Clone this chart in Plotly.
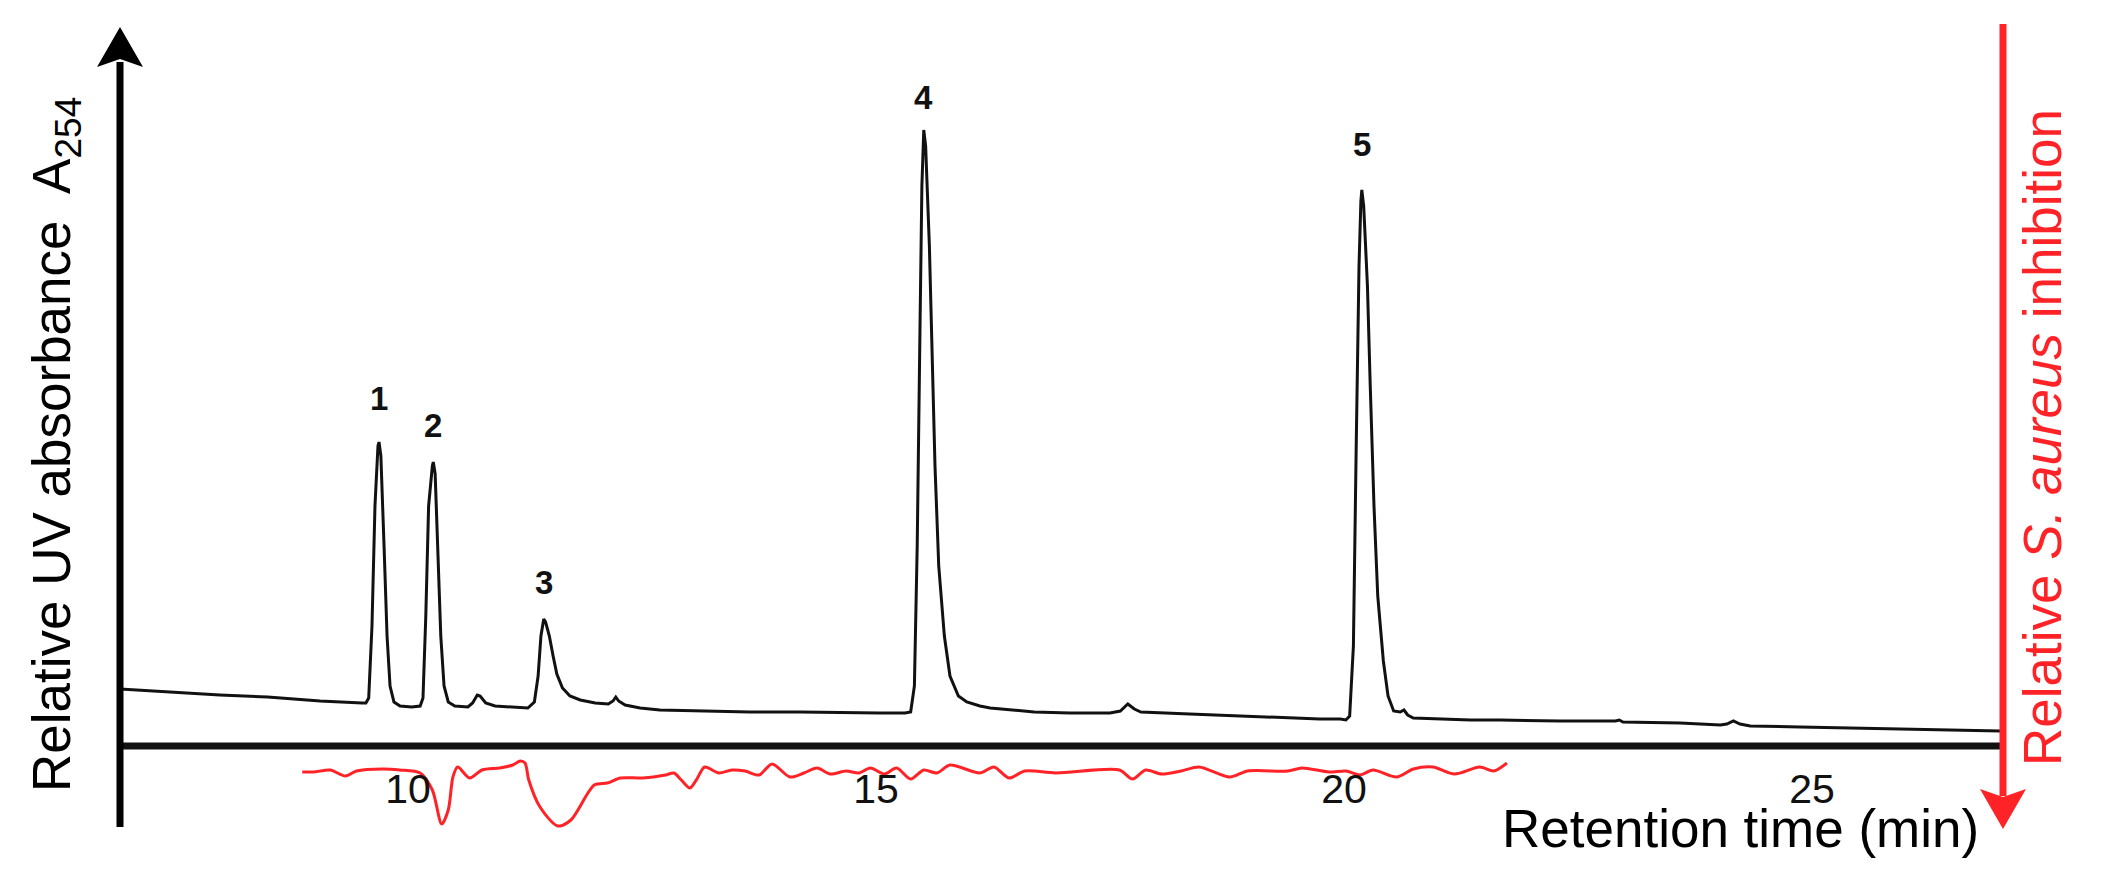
import plotly.graph_objects as go

# UV trace at 254 nm (relative absorbance, baseline-free units)
uv_time = [6.92, 7.46, 7.99, 8.50, 9.06, 9.51, 9.55, 9.58, 9.615, 9.647, 9.679, 9.69, 9.71,
           9.744, 9.776, 9.808, 9.85, 9.915, 10.04, 10.13, 10.16, 10.19, 10.22, 10.26, 10.27,
           10.29, 10.32, 10.35, 10.385, 10.43, 10.50, 10.64, 10.69, 10.74, 10.77, 10.83, 10.93,
           11.09, 11.28, 11.35, 11.39, 11.42, 11.44, 11.45, 11.47, 11.51, 11.55, 11.59, 11.65,
           11.73, 11.84, 12.00, 12.14, 12.19, 12.22, 12.25, 12.32, 12.48, 12.69, 13.12, 13.65,
           14.19, 14.72, 15.04, 15.31, 15.37, 15.41, 15.44, 15.47, 15.49, 15.51, 15.53, 15.57,
           15.60, 15.63, 15.67, 15.73, 15.79, 15.88, 15.97, 16.11, 16.22, 16.43, 16.69, 17.07,
           17.50, 17.61, 17.69, 17.76, 17.83, 18.35, 18.89, 19.31, 19.74, 19.96, 20.02, 20.06,
           20.10, 20.13, 20.16, 20.18, 20.19, 20.21, 20.25, 20.28, 20.32, 20.36, 20.42, 20.47,
           20.53, 20.60, 20.64, 20.68, 20.74, 21.35, 21.67, 22.31, 22.90, 22.94, 22.98, 23.59,
           24.02, 24.09, 24.16, 24.23, 24.34, 24.87, 25.78, 27.01]
uv_abs = [57, 54, 51, 49, 45, 43, 43, 48, 120, 240, 300, 304, 290,
          200, 110, 60, 44, 40, 39, 40, 48, 130, 240, 280, 284,
          272, 190, 110, 60, 44, 40, 39, 43, 51, 50, 43, 40,
          39, 38, 44, 70, 110, 125, 127, 124, 110, 90, 72, 58,
          50, 46, 43, 42, 45, 49, 45, 41, 38, 36, 35, 34,
          34, 33, 33, 33, 34, 60, 200, 420, 560, 616, 600, 500,
          380, 280, 180, 110, 70, 50, 44, 40, 38, 36, 34, 33,
          33, 35, 42, 37, 34, 32, 30, 28, 27, 27, 26, 30,
          100, 300, 480, 545, 556, 540, 460, 360, 240, 150, 85, 50,
          35, 34, 36, 31, 28, 26, 26, 25, 25, 26, 24, 23,
          21, 22, 25, 22, 20, 19, 17, 15]

# S. aureus growth inhibition (bioautography), relative, larger = stronger
inh_time = [8.87, 8.99, 9.17, 9.33, 9.45, 9.73, 9.91, 10.13, 10.26, 10.36, 10.43, 10.48,
            10.53, 10.66, 10.79, 10.98, 11.12, 11.20, 11.25, 11.29, 11.41, 11.60, 11.74,
            11.99, 12.13, 12.27, 12.51, 12.75, 12.84, 12.92, 13.01, 13.08, 13.17, 13.32,
            13.46, 13.60, 13.75, 13.89, 14.08, 14.23, 14.37, 14.51, 14.68, 14.82, 14.94,
            15.09, 15.22, 15.37, 15.51, 15.65, 15.79, 16.11, 16.26, 16.42, 16.59, 16.92,
            17.60, 17.74, 17.88, 18.05, 18.26, 18.45, 18.78, 18.97, 19.40, 19.55, 19.84,
            20.02, 20.17, 20.31, 20.56, 20.74, 20.95, 21.18, 21.45, 21.60, 21.74]
inh_value = [1, 1, -1, 5, 0, -2, -1, 2, 19, 53, 39, 6,
             -4, 7, -1, -3, -6, -10, -8, 9, 36, 55, 49,
             14, 12, 7, 7, 4, 2, 9, 17, 9, -4, 2,
             -1, 0, 4, -7, 6, 2, -3, 3, 0, 2, -3,
             3, -3, 8, -1, 2, -6, 2, -4, 7, 0, 2,
             -1, 8, -1, 3, 0, -4, 6, 0, 0, -3, 1,
             0, 4, -1, 6, -2, -4, 3, -4, 0, -8]

peak_names = ["1", "2", "3", "4", "5"]
peak_times = [9.69, 10.27, 11.45, 15.51, 20.19]

x_ticks = [10, 15, 20, 25]

W, H = 2102, 884
ML, MR, MT, MB = 120, 99, 20, 20
RED = "#ff2328"
FONT = "Liberation Sans, Arial, sans-serif"
label_shift = [44, 37, 37, 33, 46]  # px above each apex, as hand placed in the figure


def px(x):  # pixel -> paper (decorations only)
    return (x - ML) / (W - ML - MR)


def py(y):
    return (H - MB - y) / (H - MT - MB)


fig = go.Figure()
fig.add_trace(go.Scatter(x=uv_time, y=uv_abs, mode="lines",
                         line=dict(color="#111111", width=3), yaxis="y"))
fig.add_trace(go.Scatter(x=inh_time, y=inh_value, mode="lines",
                         line=dict(color=RED, width=3, shape="spline", smoothing=0.8),
                         yaxis="y2"))

shapes = [
    # x axis
    dict(type="line", xref="paper", yref="y", x0=px(117), x1=1, y0=0, y1=0,
         line=dict(color="#111111", width=7)),
    # left axis + arrow
    dict(type="line", xref="paper", yref="paper", x0=0, x1=0, y0=py(827), y1=py(62),
         line=dict(color="#000000", width=7)),
    dict(type="path", xref="paper", yref="paper", fillcolor="#000000", line=dict(width=0),
         path="M {} {} L {} {} L {} {} L {} {} Z".format(
             px(120), py(27), px(143), py(67), px(120), py(59), px(97), py(67))),
    # right axis + arrow (inhibition grows downward)
    dict(type="line", xref="paper", yref="paper", x0=1, x1=1, y0=py(24), y1=py(796),
         line=dict(color=RED, width=7)),
    dict(type="path", xref="paper", yref="paper", fillcolor=RED, line=dict(width=0),
         path="M {} {} L {} {} L {} {} L {} {} Z".format(
             px(2003), py(829), px(2026), py(789), px(2003), py(797), px(1980), py(789))),
]

annotations = []
for name, t, dy in zip(peak_names, peak_times, label_shift):
    near = [a for tt, a in zip(uv_time, uv_abs) if abs(tt - t) < 0.05]
    annotations.append(dict(x=t, y=max(near), xref="x", yref="y", text="<b>%s</b>" % name,
                            showarrow=False, yshift=dy,
                            font=dict(family=FONT, size=33, color="#111111")))

annotations += [
    dict(x=px(1740), y=py(828), xref="paper", yref="paper", text="Retention time (min)",
         showarrow=False, xanchor="center", yanchor="middle",
         font=dict(family=FONT, size=53, color="#000000")),
    dict(x=px(55), y=py(445), xref="paper", yref="paper",
         text="Relative UV absorbance\u00a0 A<sub>254</sub>", textangle=-90,
         showarrow=False, xanchor="center", yanchor="middle",
         font=dict(family=FONT, size=53, color="#000000")),
    dict(x=px(2042), y=py(437), xref="paper", yref="paper",
         text="Relative <i>S. aureus</i> inhibition", textangle=-90,
         showarrow=False, xanchor="center", yanchor="middle",
         font=dict(family=FONT, size=53, color=RED)),
]

fig.update_layout(
    width=W, height=H,
    margin=dict(l=ML, r=MR, t=MT, b=MB),
    paper_bgcolor="white", plot_bgcolor="white",
    showlegend=False,
    shapes=shapes, annotations=annotations,
    xaxis=dict(range=[6.923, 27.04], anchor="free", position=py(746),
               showline=False, showgrid=False, zeroline=False,
               tickvals=x_ticks, ticks="outside", ticklen=7, tickcolor="rgba(0,0,0,0)",
               tickfont=dict(family=FONT, size=41, color="#111111")),
    yaxis=dict(range=[-118, 726], visible=False, fixedrange=True),
    yaxis2=dict(range=[93, -751], overlaying="y", visible=False, fixedrange=True),
)

# page body margin would offset the figure by 8px
fig.write_html("out.html", config={"displayModeBar": False},
               post_script="document.body.style.margin = '0px';")
